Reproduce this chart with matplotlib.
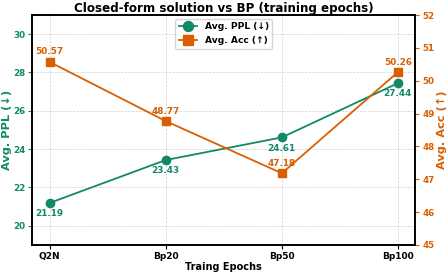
import matplotlib.pyplot as plt

epochs = ['Q2N', 'Bp20', 'Bp50', 'Bp100']
ppl = [21.19, 23.43, 24.61, 27.44]
acc = [50.57, 48.77, 47.18, 50.26]

green = '#0f8a68'
orange = '#d95f02'

plt.rcParams['font.family'] = 'DejaVu Sans'
plt.rcParams['font.weight'] = 'bold'

fig, ax = plt.subplots(figsize=(4.48, 2.73), dpi=100)
ax2 = ax.twinx()

x = range(len(epochs))
l1, = ax.plot(x, ppl, color=green, marker='o', markersize=6, linewidth=1.3, label='Avg. PPL (↓)')
l2, = ax2.plot(x, acc, color=orange, marker='s', markersize=6, linewidth=1.3, label='Avg. Acc (↑)')

for i, v in enumerate(ppl):
    ax.annotate(f'{v:.2f}', (i, v), xytext=(0, -4.5), textcoords='offset points',
                ha='center', va='top', color=green, fontsize=6.4, fontweight='bold')
for i, v in enumerate(acc):
    ax2.annotate(f'{v:.2f}', (i, v), xytext=(0, 4), textcoords='offset points',
                 ha='center', va='bottom', color=orange, fontsize=6.4, fontweight='bold')

ax.set_xlim(-0.15, 3.15)
ax.set_ylim(19, 31)
ax.set_yticks([20, 22, 24, 26, 28, 30])
ax2.set_ylim(45, 52)
ax2.set_yticks(range(45, 53))

ax.set_xticks(list(x))
ax.set_xticklabels(epochs, fontsize=6.5, fontweight='bold')
ax.tick_params(axis='y', colors=green, labelsize=6.3, length=3, pad=2)
ax2.tick_params(axis='y', colors=orange, labelsize=6.3, length=3, pad=2)
ax.tick_params(axis='x', labelsize=6.5, length=3, pad=2)
ax.tick_params(axis='x', colors='black')

ax.set_xlabel('Traing Epochs', fontsize=7, fontweight='bold', labelpad=1)
ax.set_ylabel('Avg. PPL (↓)', color=green, fontsize=8.2, fontweight='bold', labelpad=1)
ax2.set_ylabel('Avg. Acc (↑)', color=orange, fontsize=8.2, fontweight='bold', labelpad=1.5)
ax.set_title('Closed-form solution vs BP (training epochs)', fontsize=8.6, fontweight='bold', pad=2)

ax.grid(True, linestyle='--', color='#d0d0d0', linewidth=0.5)
for sp in ax.spines.values():
    sp.set_linewidth(1.2)
for sp in ax2.spines.values():
    sp.set_linewidth(1.2)

ax.legend(handles=[l1, l2], loc='upper center', prop={'weight': 'bold', 'size': 6.6},
          markerscale=1.2, borderaxespad=0.4)

fig.subplots_adjust(left=0.072, right=0.927, top=0.945, bottom=0.103)
fig.savefig('out.png', dpi=100)
